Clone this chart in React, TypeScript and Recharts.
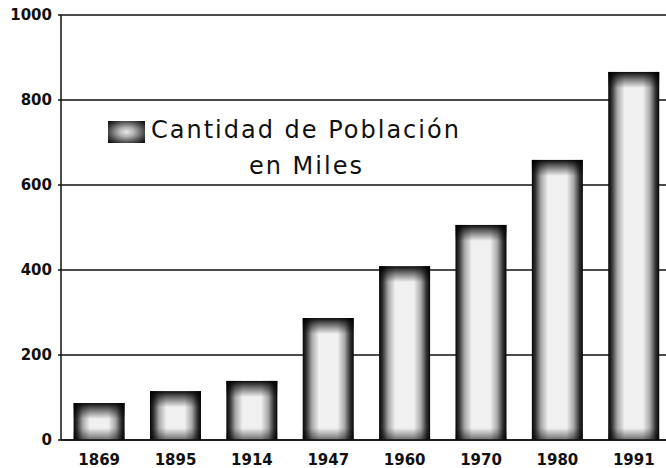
import React from 'react';
import { BarChart, Bar, XAxis, YAxis, CartesianGrid, Legend } from 'recharts';

const years = ['1869', '1895', '1914', '1947', '1960', '1970', '1980', '1991'];
const population = [87, 115, 139, 287, 409, 506, 659, 866];
const yTicks = [0, 200, 400, 600, 800, 1000];
const legendLine1 = 'Cantidad de Población';
const legendLine2 = 'en Miles';

const data = years.map((y, i) => ({ year: y, poblacion: population[i] }));

const GradBar = (props: any) => {
  const { x, y, width, height, index } = props;
  if (!height || height <= 0) return null;
  const hid = `hg${index}`;
  const vid = `vg${index}`;
  const top = Math.min(0.45, 16 / height);
  const bot = Math.min(0.45, 12 / height);
  return (
    <g>
      <defs>
        <linearGradient id={hid} x1="0" y1="0" x2="1" y2="0">
          <stop offset="0" stopColor="#050505" />
          <stop offset="0.07" stopColor="#333" />
          <stop offset="0.18" stopColor="#a8a8a8" />
          <stop offset="0.32" stopColor="#f0f0f0" />
          <stop offset="0.68" stopColor="#f0f0f0" />
          <stop offset="0.82" stopColor="#a8a8a8" />
          <stop offset="0.93" stopColor="#333" />
          <stop offset="1" stopColor="#050505" />
        </linearGradient>
        <linearGradient id={vid} x1="0" y1="0" x2="0" y2="1">
          <stop offset="0" stopColor="#000" stopOpacity={0.95} />
          <stop offset={top * 0.35} stopColor="#000" stopOpacity={0.6} />
          <stop offset={top} stopColor="#000" stopOpacity={0} />
          <stop offset={1 - bot} stopColor="#000" stopOpacity={0} />
          <stop offset="1" stopColor="#000" stopOpacity={0.55} />
        </linearGradient>
      </defs>
      <rect x={x} y={y} width={width} height={height} fill={`url(#${hid})`} />
      <rect x={x} y={y} width={width} height={height} fill={`url(#${vid})`} />
    </g>
  );
};

const LegendContent = () => (
  <div style={{ position: 'relative', width: 420, height: 70, fontFamily: '"DejaVu Sans", sans-serif', color: '#111' }}>
    <div
      style={{
        position: 'absolute',
        left: -2,
        top: 3,
        width: 37,
        height: 22,
        background: 'radial-gradient(ellipse at center, #e8e8e8 0%, #b0b0b0 30%, #444 70%, #000 100%)',
      }}
    />
    <div style={{ position: 'absolute', left: 41, top: -2, fontSize: 24, letterSpacing: 2, whiteSpace: 'nowrap' }}>
      {legendLine1}
    </div>
    <div style={{ position: 'absolute', left: 139, top: 34, fontSize: 24, letterSpacing: 2, whiteSpace: 'nowrap' }}>
      {legendLine2}
    </div>
  </div>
);

export default function App() {
  return (
    <div style={{ position: 'absolute', left: 0, top: 0, width: 666, height: 468, overflow: 'hidden', background: '#fff' }}>
      <BarChart
        width={672}
        height={468}
        data={data}
        margin={{ top: 15, right: 0, bottom: 0, left: 0 }}
        barCategoryGap="16.5%"
      >
        <CartesianGrid horizontal vertical={false} stroke="#111" strokeWidth={1.5} strokeOpacity={1} />
        <XAxis
          dataKey="year"
          height={28}
          axisLine={{ stroke: '#111', strokeWidth: 1.5 }}
          tickLine={false}
          tickSize={6}
          tickMargin={8}
          tick={{ fill: '#111', fontSize: 15, fontWeight: 'bold', fontFamily: '"DejaVu Sans", sans-serif' }}
          interval={0}
        />
        <YAxis
          width={61}
          domain={[0, 1000]}
          ticks={yTicks}
          interval={0}
          axisLine={{ stroke: '#111', strokeWidth: 1.5 }}
          tickLine={{ stroke: '#111', strokeWidth: 1.5 }}
          tickSize={3}
          tickMargin={6}
          tick={{ fill: '#111', fontSize: 15, fontWeight: 'bold', fontFamily: '"DejaVu Sans", sans-serif' }}
        />
        <Legend
          layout="horizontal"
          verticalAlign="middle"
          align="center"
          wrapperStyle={{ position: 'absolute', left: 110, top: 118, width: 420 }}
          content={LegendContent}
        />
        <Bar dataKey="poblacion" name="Cantidad de Población en Miles" shape={GradBar} isAnimationActive={false} />
      </BarChart>
    </div>
  );
}
